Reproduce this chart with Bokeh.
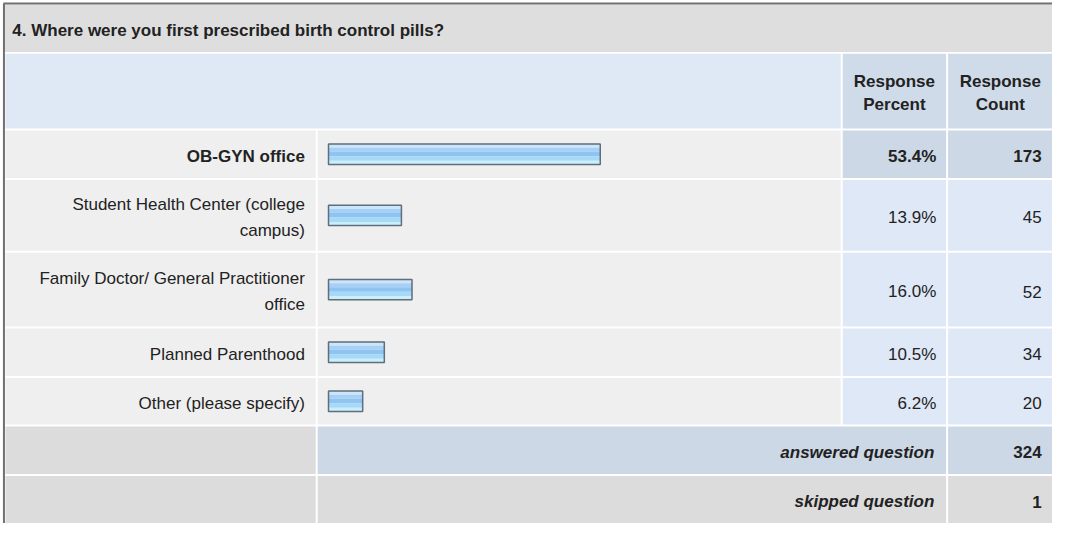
from bokeh.plotting import figure
from bokeh.models import Range1d, ColumnDataSource
from bokeh.core.properties import value
from bokeh.embed import file_html
from bokeh.resources import INLINE

# ---------------- data ----------------
title_text = "4. Where were you first prescribed birth control pills?"
header_labels = ["Response\nPercent", "Response\nCount"]
categories = [
    "OB-GYN office",
    "Student Health Center (college\ncampus)",
    "Family Doctor/ General Practitioner\noffice",
    "Planned Parenthood",
    "Other (please specify)",
]
percents = [53.4, 13.9, 16.0, 10.5, 6.2]
counts = [173, 45, 52, 34, 20]
summary_labels = ["answered question", "skipped question"]
summary_counts = [324, 1]

# ---------------- layout (reference pixel space) ----------------
W_REF, H_REF = 1068, 539
FONT = value("Liberation Sans")
FS = "17px"
TXT = "#222222"

C_LABEL = (5, 320)
C_BAR = (322, 853)
C_PCT = (855, 960)
C_CNT = (962, 1068)

TITLE_ROW = (4, 53)
HEADER_ROW = (55, 132)
row_tops = [134, 185, 260, 338, 389]
row_bots = [183, 258, 336, 387, 437]
sum_tops = [439, 490]
sum_bots = [488, 539]

BAR_X0 = 333
BAR_PAD = 3.0
BAR_SCALE = 5.11   # px per percent
BAR_H = 21

GRAY_TITLE = "#dedede"
BLUE_HEAD = "#dfe8f5"
BLUE_HEAD_DARK = "#d0dbe9"
ROW_BG = "#efefef"
CELL_BLUE = "#dfe8f6"
CELL_BLUE_DARK = "#cdd8e6"
SUM_GRAY = "#dcdcdc"

p = figure(width=1052, height=523,
           x_range=Range1d(0, W_REF), y_range=Range1d(H_REF, 0),
           output_backend="svg", toolbar_location=None, min_border=0)
p.xaxis.visible = False
p.yaxis.visible = False
p.xgrid.visible = False
p.ygrid.visible = False
p.outline_line_color = None
p.background_fill_color = "white"
p.border_fill_color = "white"

def cells(lefts, rights, tops, bots, colors):
    p.quad(left=lefts, right=rights, top=tops, bottom=bots,
           fill_color=colors, line_color=None)

# title band
cells([4], [W_REF], [TITLE_ROW[0]], [TITLE_ROW[1]], [GRAY_TITLE])
p.text(x=[12], y=[(TITLE_ROW[0] + TITLE_ROW[1]) / 2 + 2], text=[title_text],
       text_font=FONT, text_font_size=FS, text_font_style="bold",
       text_color=TXT, text_align="left", text_baseline="middle")

# header band
cells([C_LABEL[0], C_PCT[0], C_CNT[0]], [C_BAR[1], C_PCT[1], C_CNT[1]],
      [HEADER_ROW[0]] * 3, [HEADER_ROW[1]] * 3,
      [BLUE_HEAD, BLUE_HEAD_DARK, BLUE_HEAD_DARK])
hy = (HEADER_ROW[0] + HEADER_ROW[1]) / 2 + 2
p.text(x=[(C_PCT[0] + C_PCT[1]) / 2, (C_CNT[0] + C_CNT[1]) / 2], y=[hy, hy],
       text=header_labels, text_font=FONT, text_font_size=FS,
       text_font_style="bold", text_color=TXT, text_align="center",
       text_baseline="middle", text_line_height=1.2)

# data rows
n = len(categories)
imax = percents.index(max(percents))
mids = [(t + b) / 2 for t, b in zip(row_tops, row_bots)]
for i in range(n):
    dark = (i == imax)
    cells([C_LABEL[0], C_BAR[0], C_PCT[0], C_CNT[0]],
          [C_LABEL[1], C_BAR[1], C_PCT[1], C_CNT[1]],
          [row_tops[i]] * 4, [row_bots[i]] * 4,
          [ROW_BG, ROW_BG,
           CELL_BLUE_DARK if dark else CELL_BLUE,
           CELL_BLUE_DARK if dark else CELL_BLUE])

# bars with a stepped gradient
bar_right = [BAR_X0 + BAR_PAD + v * BAR_SCALE for v in percents]
strips = [(0.00, 0.18, "#cbe5fa"), (0.18, 0.38, "#a6d0f5"),
          (0.38, 0.60, "#8ec4f2"), (0.60, 0.82, "#a8d8f7"),
          (0.82, 1.00, "#c8f0fc")]
for f0, f1, col in strips:
    p.quad(left=[BAR_X0] * n, right=bar_right,
           top=[m - BAR_H / 2 + f0 * BAR_H for m in mids],
           bottom=[m - BAR_H / 2 + f1 * BAR_H for m in mids],
           fill_color=col, line_color=None)
p.quad(left=[BAR_X0] * n, right=bar_right,
       top=[m - BAR_H / 2 for m in mids], bottom=[m + BAR_H / 2 for m in mids],
       fill_color=None, line_color="#5f6e7a", line_width=1.5)

styles = ["bold" if i == imax else "normal" for i in range(n)]
src = ColumnDataSource(dict(
    y=[m + 2 for m in mids],
    cat=categories,
    pct=[f"{v:.1f}%" for v in percents],
    cnt=[str(c) for c in counts],
    style=styles,
    xl=[309] * n, xp=[950] * n, xc=[1057] * n,
))
common = dict(text_font=FONT, text_font_size=FS, text_color=TXT,
              text_align="right", text_baseline="middle",
              text_font_style="style", source=src)
p.text(x="xl", y="y", text="cat", text_line_height=1.35, **common)
p.text(x="xp", y="y", text="pct", **common)
p.text(x="xc", y="y", text="cnt", **common)

# summary rows
cells([C_LABEL[0], C_BAR[0], C_CNT[0]], [C_LABEL[1], C_PCT[1], C_CNT[1]],
      [sum_tops[0]] * 3, [sum_bots[0]] * 3,
      [SUM_GRAY, CELL_BLUE_DARK, CELL_BLUE_DARK])
cells([C_LABEL[0], C_BAR[0], C_CNT[0]], [C_LABEL[1], C_PCT[1], C_CNT[1]],
      [sum_tops[1]] * 3, [sum_bots[1]] * 3,
      [SUM_GRAY, SUM_GRAY, SUM_GRAY])
smids = [(t + b) / 2 + 2 for t, b in zip(sum_tops, sum_bots)]
p.text(x=[948, 948], y=smids, text=summary_labels, text_font=FONT,
       text_font_size=FS, text_font_style="bold italic", text_color=TXT,
       text_align="right", text_baseline="middle")
p.text(x=[1057, 1057], y=smids, text=[str(c) for c in summary_counts],
       text_font=FONT, text_font_size=FS, text_font_style="bold",
       text_color=TXT, text_align="right", text_baseline="middle")

# outer frame (left and top edges)
p.segment(x0=[3.5, 3], y0=[H_REF + 5, 3], x1=[3.5, W_REF + 5], y1=[3, 3],
          line_color="#707070", line_width=2)

open("out.html", "w").write(file_html(p, INLINE))
